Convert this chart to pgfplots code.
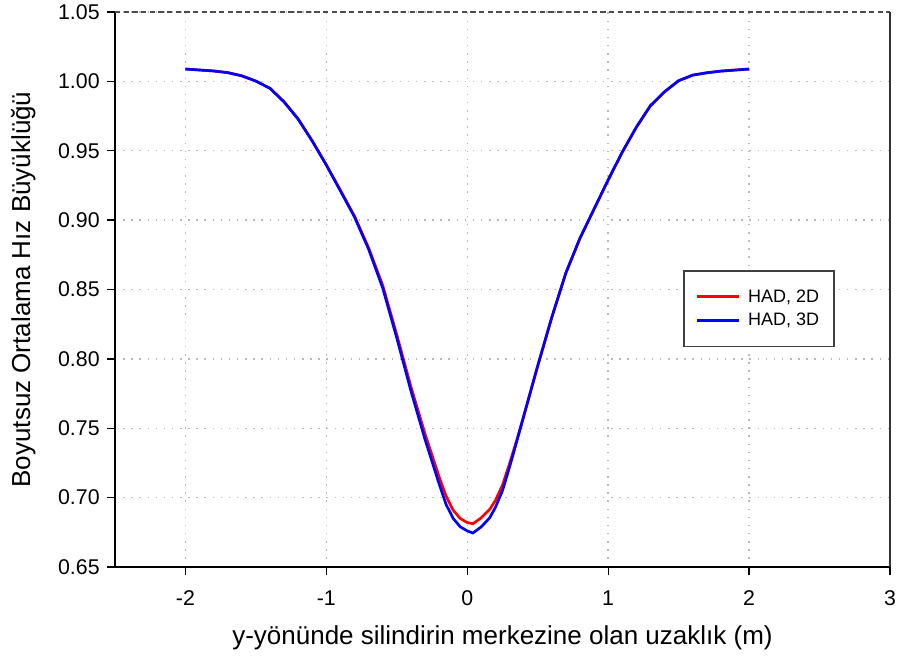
\documentclass[border=0pt]{standalone}
\usepackage{pgfplots}
\pgfplotsset{compat=1.18}
\usepackage{pgfplotstable}
\usepackage{fontspec}
\setmainfont{Liberation Sans}

\pgfplotstableread{
x red blue
-2.0 1.0089 1.0089
-1.8 1.0075 1.0075
-1.7 1.0063 1.0063
-1.6 1.0040 1.0040
-1.5 1.0002 1.0002
-1.4 0.9950 0.9950
-1.3 0.9852 0.9852
-1.2 0.9728 0.9728
-1.1 0.9570 0.9570
-1.0 0.9397 0.9397
-0.9 0.9215 0.9210
-0.8 0.9028 0.9022
-0.7 0.8800 0.8790
-0.6 0.8530 0.8510
-0.5 0.8173 0.8150
-0.4 0.7800 0.7770
-0.3 0.7460 0.7420
-0.2 0.7150 0.7100
-0.15 0.7010 0.6950
-0.1 0.6910 0.6850
-0.05 0.6850 0.6790
0.0 0.6820 0.6760
0.04 0.6812 0.6745
0.1 0.6855 0.6790
0.16 0.6916 0.6856
0.2 0.6980 0.6930
0.25 0.7090 0.7050
0.3 0.7245 0.7220
0.35 0.7410 0.7400
0.4 0.7585 0.7585
0.5 0.7950 0.7950
0.6 0.8300 0.8300
0.7 0.8620 0.8620
0.8 0.8870 0.8870
0.9 0.9080 0.9080
1.0 0.9290 0.9290
1.1 0.9490 0.9490
1.2 0.9670 0.9670
1.3 0.9825 0.9825
1.4 0.9925 0.9925
1.5 1.0005 1.0005
1.6 1.0045 1.0045
1.7 1.0062 1.0062
1.8 1.0074 1.0074
2.0 1.0089 1.0089
}\datatable

\begin{document}
\begin{tikzpicture}
\begin{axis}[
  at={(0,0)}, anchor=south west,
  scale only axis,
  width=581.25pt, height=416.25pt,
  xmin=-2.5, xmax=3, ymin=0.65, ymax=1.05,
  xtick={-2,-1,0,1,2,3},
  ytick={0.65,0.70,0.75,0.80,0.85,0.90,0.95,1.00,1.05},
  axis x line*=bottom, axis y line*=left,
  axis line style={black, line width=1.1pt, -},
  tick align=outside,
  major tick length=6pt,
  tick style={black, line width=1.1pt},
  xtick style={black, line width=0.9pt},
  grid=major,
  major grid style={gray!55, line width=1.1pt, dash pattern=on 1.1pt off 5pt},
  ticklabel style={font=\fontsize{16}{18}\selectfont},
  /pgf/number format/assume math mode=true,
  yticklabel style={/pgf/number format/.cd, fixed, fixed zerofill, precision=2},
  xticklabel style={/pgf/number format/.cd, fixed},
  xticklabel shift=8pt,
  yticklabel shift=2pt,
  xlabel={y-yönünde silindirin merkezine olan uzaklık (m)},
  ylabel={Boyutsuz Ortalama Hız Büyüklüğü},
  label style={font=\fontsize{19.5}{22}\selectfont},
  xlabel style={yshift=-8pt},
  ylabel style={yshift=10pt},
  legend style={at={(0.733,0.535)}, anchor=north west,
    draw=black!75, line width=1.1pt,
    font=\fontsize{13.5}{16}\selectfont,
    inner xsep=9pt, inner ysep=12pt, row sep=3pt,
    /tikz/every odd column/.append style={column sep=4pt},
    legend cell align=left},
  legend image code/.code={\draw[#1, line width=2pt] (0cm,0cm) -- (1.1cm,0cm);},
  after end axis/.code={
    \draw[black!70, line width=1pt, dashed, dash pattern=on 4pt off 2.5pt] (rel axis cs:0,1) -- (rel axis cs:1,1);
    \draw[black!80, line width=1.2pt] (rel axis cs:1,0) -- (rel axis cs:1,1);
  },
]
\addplot[red, line width=2pt] table[x=x, y=red] {\datatable};
\addlegendentry{HAD, 2D}
\addplot[blue, line width=2pt] table[x=x, y=blue] {\datatable};
\addlegendentry{HAD, 3D}
\end{axis}
\pgfresetboundingbox
\path (-86.25pt,-75.75pt) rectangle (588.75pt,425.25pt);
\end{tikzpicture}
\end{document}
